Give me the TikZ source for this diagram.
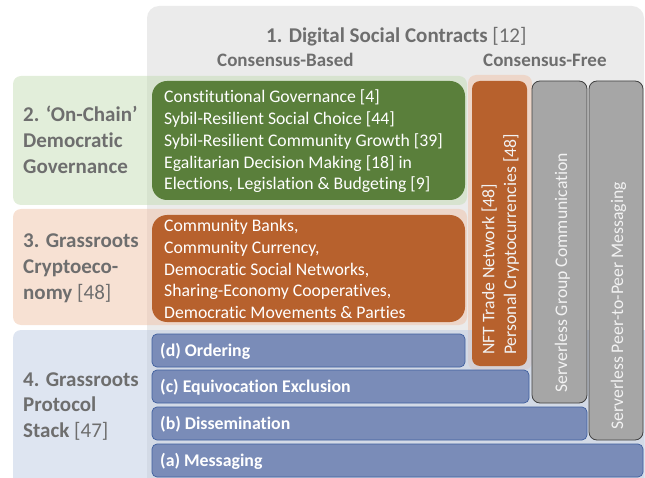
\documentclass[tikz,border=0pt]{standalone}
\usepackage{fontspec}
\setmainfont{Carlito}[Ligatures={TeX,NoCommon}]
\definecolor{labelgray}{HTML}{6E6E6E}
\definecolor{backgray}{HTML}{EBEBEB}
\definecolor{bandgreen}{HTML}{C5DDB5}
\definecolor{bandorange}{HTML}{F0C3A8}
\definecolor{bandblue}{HTML}{BDCBE3}
\definecolor{boxgreen}{HTML}{5A7F3B}
\definecolor{boxorange}{HTML}{B7612D}
\definecolor{barblue}{HTML}{7A8CB8}
\definecolor{barline}{HTML}{3F5F9F}
\definecolor{colgray}{HTML}{A6A6A6}
\definecolor{colline}{HTML}{404040}
\begin{document}
\begin{tikzpicture}[x=1pt, y=-1pt,
  band/.style={fill opacity=0.5, rounded corners=8pt},
  layertext/.style={anchor=base west, inner sep=0pt, align=left, text=labelgray,
    font=\fontsize{21}{25.7}\selectfont\bfseries},
  boxtext/.style={anchor=base west, inner sep=0pt, align=left, text=white,
    font=\fontsize{17.7}{21.7}\selectfont},
  bartext/.style={anchor=base west, inner sep=0pt, text=white,
    font=\fontsize{17.8}{21.7}\selectfont\bfseries},
  coltext/.style={anchor=base west, inner sep=0pt, align=left, rotate=90,
    text=white!95!black, font=\fontsize{17.7}{21.7}\selectfont}]
\clip (0,0) rectangle (645,478);
% layer 1 background
\fill[backgray, rounded corners=12pt] (147,6) rectangle (644,520);
% layer bands
\fill[band, bandgreen] (13,76) rectangle (467,205);
\fill[band, bandorange] (13,209) rectangle (467,325);
\fill[band, bandorange] (468,75) rectangle (532,370);
\fill[band, bandblue] (13,330) rectangle (680,520);
% consensus-based boxes
\fill[boxgreen, rounded corners=15pt] (152,81) rectangle (465,200);
\fill[boxorange, rounded corners=15pt] (152,215) rectangle (465,322);
% consensus-free columns
\fill[boxorange, rounded corners=8pt] (472,81) rectangle (527,366);
\draw[colline, fill=colgray, line width=0.8pt, rounded corners=8pt] (532,81) rectangle (587,403);
\draw[colline, fill=colgray, line width=0.8pt, rounded corners=8pt] (589,81) rectangle (643,440);
% protocol stack
\foreach \nm/\txt/\xr/\yt in {d/{(d) Ordering}/465/334, c/{(c) Equivocation Exclusion}/529/370,
    b/{(b) Dissemination}/587/407, a/{(a) Messaging}/643/444}
  {\draw[barline, fill=barblue, line width=0.7pt, rounded corners=5pt]
     (152,\yt) rectangle (\xr,\yt+33);
   \node[bartext] (bar-\nm) at (160,\yt+22.5) {\txt};
  };
% headings
\node[anchor=base west, inner sep=0pt, text=labelgray, font=\fontsize{21}{25}\selectfont]
  (title) at (266,43) {\textbf{1. Digital Social Contracts} [12]};
\node[anchor=base west, inner sep=0pt, text=labelgray, font=\fontsize{19}{23}\selectfont\bfseries]
  (based) at (217,67) {Consensus-Based};
\node[anchor=base west, inner sep=0pt, text=labelgray, font=\fontsize{19}{23}\selectfont\bfseries]
  (free) at (483,67) {Consensus-Free};
% layer labels (anchored on the last line)
\node[layertext] (gov) at (23,173.4) {2. ‘On-Chain’\\Democratic\\Governance};
\node[layertext] (eco) at (23,299.4) {3. Grassroots\\Cryptoeco-\\nomy {\mdseries[48]}};
\node[layertext] (stack) at (23,437.4) {4. Grassroots\\Protocol\\Stack {\mdseries[47]}};
% box contents
\node[boxtext] (govbox) at (164,189.8) {Constitutional Governance [4]\\
  Sybil-Resilient Social Choice [44]\\Sybil-Resilient Community Growth [39]\\
  Egalitarian Decision Making [18] in\\Elections, Legislation \& Budgeting [9]};
\node[boxtext] (ecobox) at (164,318.5) {Community Banks,\\Community Currency,\\
  Democratic Social Networks,\\Sharing-Economy Cooperatives,\\Democratic Movements \& Parties};
\node[coltext] (nft) at (516,355) {NFT Trade Network [48]\\Personal Cryptocurrencies [48]};
\node[coltext] (groupcomm) at (567,393) {Serverless Group Communication};
\node[coltext] (p2p) at (623,430) {Serverless Peer-to-Peer Messaging};
\end{tikzpicture}
\end{document}
